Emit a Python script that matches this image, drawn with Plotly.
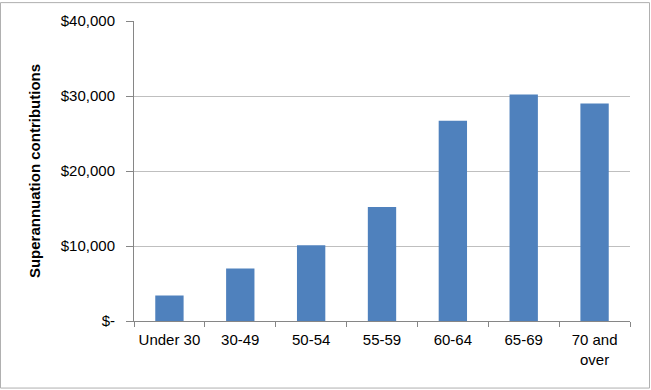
import plotly.graph_objects as go

categories = ["Under 30", "30-49", "50-54", "55-59", "60-64", "65-69", "70 and<br>over"]
values = [3400, 7000, 10100, 15200, 26700, 30200, 29000]
y_tickvals = [0, 10000, 20000, 30000, 40000]
y_ticktext = ["$-", "$10,000", "$20,000", "$30,000", "$40,000"]

W, H = 651, 390
ml, mr, mt, mb = 134, 21, 19, 69
pw, ph = W - ml - mr, H - mt - mb

fig = go.Figure(go.Bar(x=categories, y=values, marker=dict(color="#4F81BD", line=dict(width=0)), width=0.4))

font = "Liberation Sans, Arial, sans-serif"
fig.update_layout(
    width=W, height=H,
    margin=dict(l=ml, r=mr, t=mt, b=mb),
    paper_bgcolor="white", plot_bgcolor="white",
    font=dict(family=font, size=15, color="black"),
    showlegend=False,
)
fig.update_xaxes(
    type="category", tickson="boundaries", ticks="outside", ticklen=5, tickcolor="#868686",
    showline=True, linecolor="#868686", linewidth=1, showgrid=False,
    tickfont=dict(size=15), ticklabelstandoff=5,
)
fig.update_yaxes(
    range=[0, 40000], tickvals=y_tickvals, ticktext=y_ticktext,
    ticks="outside", ticklen=7, tickcolor="#868686",
    showline=True, linecolor="#868686", linewidth=1,
    showgrid=True, gridcolor="#BFBFBF", gridwidth=1, zeroline=False,
    tickfont=dict(size=15), ticklabelstandoff=8,
    title=dict(text="<b>Superannuation contributions</b>", font=dict(size=15), standoff=16),
)
# outer chart border
fig.add_shape(type="rect", xref="paper", yref="paper",
              x0=(0.5 - ml) / pw, x1=(W - 1.5 - ml) / pw,
              y0=(H - mb - (H - 1.5)) / ph, y1=(H - mb - 0.5) / ph,
              line=dict(color="#B0B0B0", width=1))
fig.write_html("out.html")
